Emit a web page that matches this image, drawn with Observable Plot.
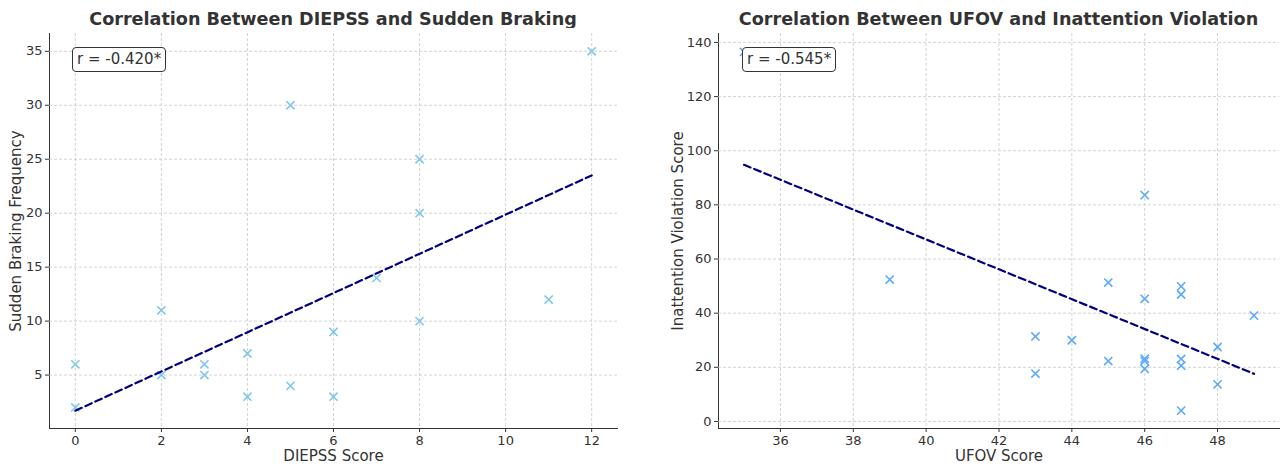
<!DOCTYPE html>
<html>
<head>
<meta charset="utf-8">
<script src="https://cdn.jsdelivr.net/npm/d3@7"></script>
<script src="https://cdn.jsdelivr.net/npm/@observablehq/plot@0.6"></script>
<style>
  html, body { margin: 0; padding: 0; background: #fff; }
  body { width: 1282px; height: 464px; position: relative; overflow: hidden; font-family: "DejaVu Sans", sans-serif; color: #333; }
  .panel { position: absolute; top: 0; height: 464px; }
  .title { position: absolute; top: 9px; font-weight: bold; font-size: 17.6px; color: #333; white-space: nowrap; transform: translateX(-50%); }
  .chart { position: absolute; top: 28px; left: 0; }
  .rbox { position: absolute; top: 47px; border: 1px solid #333; border-radius: 4px; background: #fff; font-size: 15px; padding: 2px 4px; line-height: 19px; color: #333; white-space: nowrap; }
</style>
</head>
<body>
<div class="panel" id="left" style="left:0;width:640px"></div>
<div class="panel" id="right" style="left:640px;width:642px"></div>
<script>
// ---- Data: left chart (DIEPSS vs Sudden Braking) ----
const diepssScore = [0, 0, 2, 2, 3, 3, 4, 4, 5, 5, 6, 6, 7, 8, 8, 8, 11, 12];
const brakingFreq = [2, 6, 11, 5, 6, 5, 7, 3, 30, 4, 9, 3, 14, 25, 20, 10, 12, 35];
const leftFitX = [0, 12];
const leftFitY = [1.7, 23.5];
const leftTicksX = [0, 2, 4, 6, 8, 10, 12];
const leftTicksY = [5, 10, 15, 20, 25, 30, 35];
const leftR = "r = -0.420*";

// ---- Data: right chart (UFOV vs Inattention Violation) ----
const ufovScore = [35, 39, 43, 43, 44, 45, 45, 46, 46, 46, 46, 46, 47, 47, 47, 47, 47, 48, 48, 49];
const inattention = [136.5, 52.4, 31.4, 17.7, 30, 51.3, 22.3, 83.6, 45.3, 23.2, 22.3, 19.4, 49.9, 46.9, 23.1, 20.6, 4, 27.5, 13.7, 39.1];
const rightFitX = [35, 49];
const rightFitY = [94.8, 17.6];
const rightTicksX = [36, 38, 40, 42, 44, 46, 48];
const rightTicksY = [0, 20, 40, 60, 80, 100, 120, 140];
const rightR = "r = -0.545*";

function panel(opts) {
  const pts = opts.xs.map((x, i) => ({x, y: opts.ys[i]}));
  const fit = opts.fx.map((x, i) => ({x, y: opts.fy[i]}));
  const gridStyle = {stroke: "#c8c8c8", strokeOpacity: 1, strokeWidth: 0.8, strokeDasharray: "3,2"};
  return Plot.plot({
    width: opts.width,
    height: 436,
    marginLeft: opts.ml,
    marginRight: opts.mr,
    marginTop: 5,
    marginBottom: 36,
    style: {fontFamily: "DejaVu Sans, sans-serif", fontSize: "13px", color: "#333", background: "#fff"},
    x: {domain: opts.xd, ticks: opts.tx, line: true, tickSize: 4, tickPadding: 3, label: null},
    y: {domain: opts.yd, ticks: opts.ty, line: true, tickSize: 4, tickPadding: 3, label: null},
    marks: [
      Plot.gridX(opts.tx, gridStyle),
      Plot.gridY(opts.ty, gridStyle),
      Plot.dot(pts, {x: "x", y: "y", symbol: "times", r: 3.8, stroke: opts.color, strokeWidth: 1.6}),
      Plot.line(fit, {x: "x", y: "y", stroke: "#000080", strokeWidth: 2.2, strokeDasharray: "7,4"}),
      Plot.text([opts.xlabel], {frameAnchor: "bottom", dy: 28, lineAnchor: "middle", textAnchor: "middle", fontSize: 15, fill: "#333"}),
      Plot.text([opts.ylabel], {frameAnchor: "left", dx: opts.ylabelDx, rotate: -90, lineAnchor: "middle", textAnchor: "middle", fontSize: 15, fill: "#333"})
    ]
  });
}

function build(id, opts) {
  const host = document.getElementById(id);
  const t = document.createElement("div");
  t.className = "title";
  t.textContent = opts.title;
  t.style.left = (opts.ml + (opts.width - opts.ml - opts.mr) / 2) + "px";
  host.appendChild(t);
  const c = document.createElement("div");
  c.className = "chart";
  c.appendChild(panel(opts));
  host.appendChild(c);
  const b = document.createElement("div");
  b.className = "rbox";
  b.textContent = opts.rtext;
  b.style.left = opts.boxLeft + "px";
  host.appendChild(b);
}

build("left", {
  title: "Correlation Between DIEPSS and Sudden Braking",
  width: 640, ml: 49, mr: 23,
  xs: diepssScore, ys: brakingFreq, fx: leftFitX, fy: leftFitY,
  xd: [-0.6, 12.6], yd: [0.05, 36.65], tx: leftTicksX, ty: leftTicksY,
  color: "#80c8e8",
  xlabel: "DIEPSS Score", ylabel: "Sudden Braking Frequency", ylabelDx: -33,
  rtext: leftR, boxLeft: 72
});

build("right", {
  title: "Correlation Between UFOV and Inattention Violation",
  width: 642, ml: 78, mr: 3,
  xs: ufovScore, ys: inattention, fx: rightFitX, fy: rightFitY,
  xd: [34.3, 49.7], yd: [-2.6, 143.3], tx: rightTicksX, ty: rightTicksY,
  color: "#5aaaf8",
  xlabel: "UFOV Score", ylabel: "Inattention Violation Score", ylabelDx: -40,
  rtext: rightR, boxLeft: 102
});
</script>
</body>
</html>
